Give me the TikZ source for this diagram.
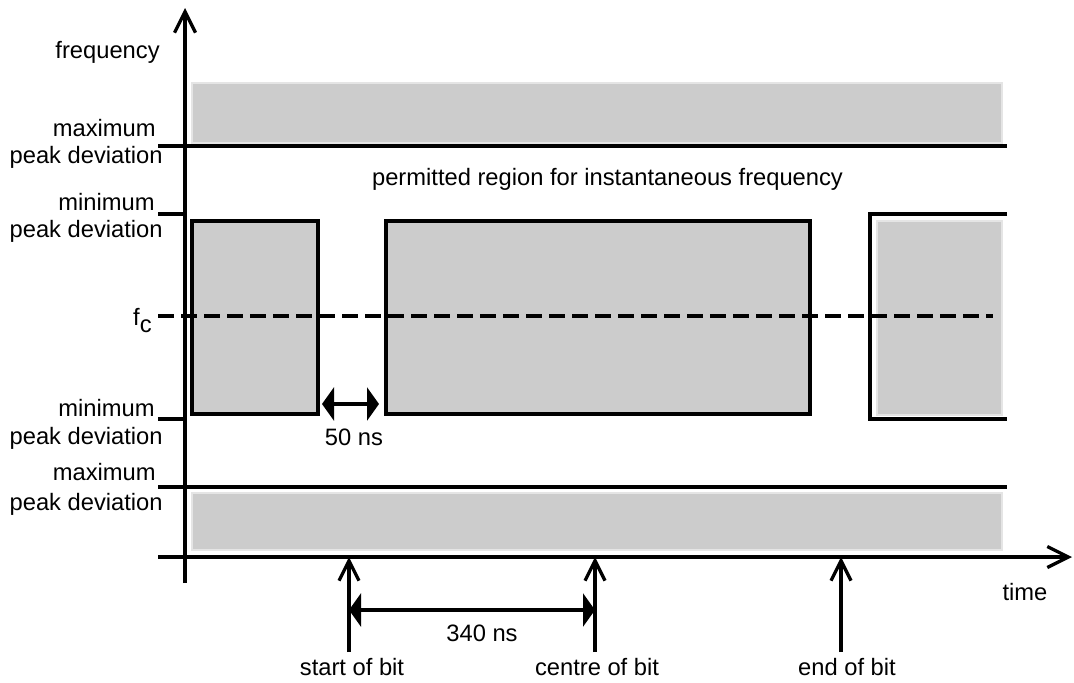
\documentclass[tikz,border=0pt]{standalone}
\usepackage{fontspec}
\setmainfont{Liberation Sans}
\usetikzlibrary{arrows.meta}
\tikzset{
  level/.style={line width=1.9pt},
  band/.style={fill=black!20, draw=black!10, line width=1.2pt},
  slot/.style={fill=black!20, draw=black, line width=1.9pt},
  axis/.style={line width=1.9pt, -{Straight Barb[length=4.2mm, width=4.2mm, line width=1.9pt]}},
  marker/.style={line width=1.9pt, -{Straight Barb[length=4mm, width=4mm, line width=1.9pt]}},
  span/.style={line width=1.9pt, {Triangle[length=2.4mm, width=6.6mm]}-{Triangle[length=2.4mm, width=6.6mm]}},
  lbl/.style={font=\fontsize{13.5}{16}\selectfont, inner sep=0pt},
}
\begin{document}
\begin{tikzpicture}
\useasboundingbox (-3.7,-2.5) rectangle (17.78,11.14);
\coordinate (origin) at (0,0);
% bands beyond the maximum peak deviation
\draw[band] (0.14,8.28) rectangle (16.34,9.48);
\draw[band] (0.14,0.14) rectangle (16.34,1.28);
% forbidden slots round f_c
\draw[slot] (0.14,2.86) rectangle (2.66,6.72);
\draw[slot] (4.02,2.86) rectangle (12.5,6.72);
\draw[band] (13.84,2.84) rectangle (16.34,6.72);
\draw[level] (16.44,6.86) -- (13.7,6.86) -- (13.7,2.76) -- (16.44,2.76);
% deviation levels
\draw[level] (-0.54,8.22) -- (16.44,8.22);
\draw[level] (-0.54,6.86) -- (0,6.86);
\draw[level] (-0.54,2.76) -- (0,2.76);
\draw[level] (-0.54,1.4) -- (16.44,1.4);
\draw[level, dash pattern=on 0.32cm off 0.14cm] (-0.54,4.82) -- (16.16,4.82);
% axes
\draw[axis] (0,-0.52) -- (0,10.98);
\draw[axis] (-0.54,0) -- (17.74,0);
% labels on the frequency axis
\node[lbl, anchor=base east] (freq) at (-0.5,9.98) {frequency};
\node[lbl, anchor=base east] (maxhi) at (-0.58,8.42) {maximum};
\node[lbl, anchor=base east] (maxhidev) at (-0.44,7.88) {peak deviation};
\node[lbl, anchor=base east] (minhi) at (-0.6,6.94) {minimum};
\node[lbl, anchor=base east] (minhidev) at (-0.44,6.4) {peak deviation};
\node[lbl, anchor=base east] (fc) at (-0.66,4.64) {f\raisebox{-0.3em}{c}};
\node[lbl, anchor=base east] (minlo) at (-0.6,2.82) {minimum};
\node[lbl, anchor=base east] (minlodev) at (-0.44,2.26) {peak deviation};
\node[lbl, anchor=base east] (maxlo) at (-0.58,1.54) {maximum};
\node[lbl, anchor=base east] (maxlodev) at (-0.44,0.94) {peak deviation};
\node[lbl, anchor=base] (region) at (8.45,7.44) {permitted region for instantaneous frequency};
\node[lbl, anchor=base] (time) at (16.8,-0.86) {time};
% 50 ns gap
\coordinate (gapL) at (2.74,3.06);
\coordinate (gapR) at (3.88,3.06);
\draw[span] (gapL) -- (gapR);
\node[lbl, anchor=base] (gaplbl) at (3.38,2.24) {50 ns};
% bit markers
\node[lbl, anchor=base] (startbit) at (3.34,-2.36) {start of bit};
\node[lbl, anchor=base] (centrebit) at (8.24,-2.36) {centre of bit};
\node[lbl, anchor=base] (endbit) at (13.24,-2.36) {end of bit};
\coordinate (startfoot) at (3.28,-1.9);
\coordinate (centrefoot) at (8.2,-1.9);
\coordinate (endfoot) at (13.12,-1.9);
\draw[marker] (startfoot) -- (startfoot |- origin);
\draw[marker] (centrefoot) -- (centrefoot |- origin);
\draw[marker] (endfoot) -- (endfoot |- origin);
% 340 ns half bit
\coordinate (spanL) at (3.28,-1.06);
\coordinate (spanR) at (8.2,-1.06);
\draw[span] (spanL) -- (spanR);
\node[lbl, anchor=base] (spanlbl) at (5.94,-1.68) {340 ns};
\end{tikzpicture}
\end{document}
